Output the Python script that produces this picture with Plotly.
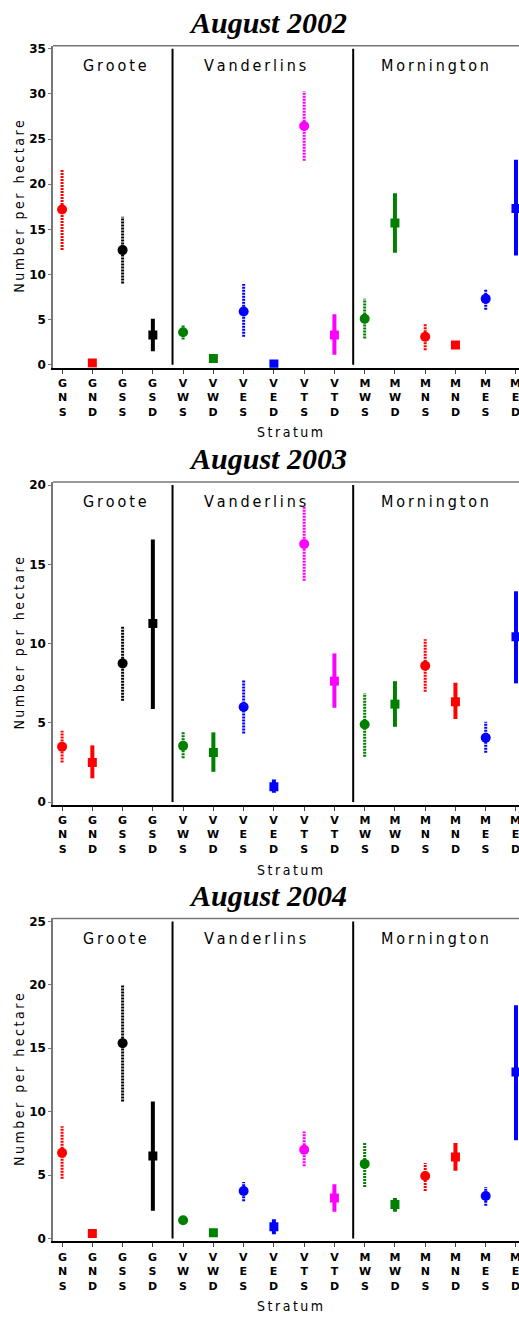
import plotly.graph_objects as go

# ---------------- data ----------------
categories = ["GNS", "GND", "GSS", "GSD", "VWS", "VWD", "VES", "VED",
              "VTS", "VTD", "MWS", "MWD", "MNS", "MND", "MES", "MED"]
cat_colors = ["#FF0000", "#FF0000", "#000000", "#000000", "#008000", "#008000",
              "#0000FF", "#0000FF", "#FF00FF", "#FF00FF", "#008000", "#008000",
              "#FF0000", "#FF0000", "#0000FF", "#0000FF"]

panel_titles = ["August 2002", "August 2003", "August 2004"]

mean_2002 = [17.2, 0.2, 12.7, 3.3, 3.6, 0.7, 5.9, 0.1, 26.45, 3.3, 5.1, 15.7, 3.1, 2.2, 7.3, 17.3]
lo_2002 = [12.7, None, 9.0, 1.5, 2.8, 0.3, 3.1, None, 22.6, 1.1, 2.9, 12.4, 1.6, None, 6.1, 12.1]
hi_2002 = [21.6, None, 16.4, 5.1, 4.4, 1.1, 8.95, None, 30.3, 5.6, 7.3, 19.0, 4.6, None, 8.4, 22.7]

mean_2003 = [3.5, 2.5, 8.75, 11.27, 3.55, 3.13, 6.0, 0.97, 16.28, 7.63, 4.9, 6.18, 8.6, 6.33, 4.06, 10.43]
lo_2003 = [2.5, 1.5, 6.4, 5.87, 2.76, 1.91, 4.33, 0.59, 13.96, 5.95, 2.86, 4.75, 6.96, 5.24, 3.11, 7.49]
hi_2003 = [4.5, 3.58, 11.1, 16.57, 4.44, 4.4, 7.74, 1.43, 18.63, 9.38, 6.86, 7.63, 10.28, 7.53, 5.07, 13.3]

mean_2004 = [6.75, 0.4, 15.4, 6.5, 1.44, 0.45, 3.74, 0.92, 7.0, 3.19, 5.88, 2.67, 4.93, 6.43, 3.35, 13.13]
lo_2004 = [4.71, None, 10.8, 2.18, None, None, 2.94, 0.34, 5.7, 2.1, 4.06, 2.1, 3.74, 5.33, 2.57, 7.74]
hi_2004 = [8.84, None, 19.97, 10.8, None, None, 4.45, 1.52, 8.44, 4.27, 7.58, 3.19, 5.95, 7.53, 4.06, 18.38]

y_tick_max = [35, 20, 25]
region_names = ["Groote", "Vanderlins", "Mornington"]
region_centers = [1.75, 6.38, 12.32]
divider_positions = [3.65, 9.62]

# ---------------- layout geometry ----------------
W, H = 519, 1317
panel_px = [(42, 366), (481, 806), (920, 1245)]  # plot-area top / bottom in pixels
x_left = 53

panels = [(mean_2002, lo_2002, hi_2002), (mean_2003, lo_2003, hi_2003), (mean_2004, lo_2004, hi_2004)]

COND = "DejaVu Sans Condensed, Liberation Sans Narrow, sans-serif"
THIN = "\u2009"


def spaced(s):
    return THIN.join(s)


def py(px):
    return 1 - px / H


fig = go.Figure()
annotations = []
shapes = []
layout_axes = {}

for k, (means, los, his) in enumerate(panels):
    xa = "x" if k == 0 else f"x{k + 1}"
    ya = "y" if k == 0 else f"y{k + 1}"
    top, bot = panel_px[k]
    ymax = y_tick_max[k]
    pad = (ymax * 3.0) / (bot - top - 6)

    # error bars
    for i, cat in enumerate(categories):
        if los[i] is None:
            continue
        shallow = cat.endswith("S")
        fig.add_trace(go.Scatter(
            x=[i, i], y=[los[i], his[i]], xaxis=xa, yaxis=ya, mode="lines",
            line=dict(color=cat_colors[i], width=3 if shallow else 4,
                      dash="2px,1px" if shallow else "solid"),
            showlegend=False, hoverinfo="skip"))

    # markers
    for sym, suffix, size in (("circle", "S", 10), ("square", "D", 9)):
        idx = [i for i, c in enumerate(categories) if c.endswith(suffix)]
        fig.add_trace(go.Scatter(
            x=idx, y=[means[i] for i in idx], xaxis=xa, yaxis=ya, mode="markers",
            marker=dict(symbol=sym, size=size, color=[cat_colors[i] for i in idx],
                        line=dict(width=0)),
            text=[categories[i] for i in idx], showlegend=False))

    xkey = "xaxis" if k == 0 else f"xaxis{k + 1}"
    ykey = "yaxis" if k == 0 else f"yaxis{k + 1}"
    layout_axes[xkey] = dict(
        domain=[x_left / W, 1], range=[-0.3, 15.1], anchor=ya,
        showline=True, linecolor="#000000", linewidth=1.5,
        ticks="outside", ticklen=4, tickwidth=1, tickcolor="#444",
        tickvals=list(range(len(categories))), showticklabels=False,
        showgrid=False, zeroline=False, fixedrange=True)
    layout_axes[ykey] = dict(
        domain=[py(bot), py(top)], range=[-pad, ymax + pad], anchor=xa,
        showline=True, linecolor="#777777", linewidth=1.5,
        ticks="outside", ticklen=3, tickwidth=1, tickcolor="#777777",
        tickvals=list(range(0, ymax + 1, 5)),
        tickfont=dict(family="DejaVu Sans", size=12, color="#000000", weight="bold"),
        showgrid=False, zeroline=False, fixedrange=True)

    # top border line
    shapes.append(dict(type="line", xref=f"{xa} domain", yref=f"{ya} domain",
                       x0=0, x1=1, y0=1, y1=1, line=dict(color="#777777", width=1.5)))
    # island dividers
    for d in divider_positions:
        shapes.append(dict(type="line", xref=xa, yref=ya, x0=d, x1=d, y0=0, y1=ymax,
                           line=dict(color="#000000", width=2)))

    # panel title
    annotations.append(dict(
        text=panel_titles[k], x=267.5 / W, y=py(top - 23.5), xref="paper", yref="paper",
        showarrow=False, xanchor="center", yanchor="middle",
        font=dict(family="Liberation Serif, Times New Roman, serif", size=30,
                  color="#000000", weight="bold", style="italic")))
    # region labels
    for name, cx in zip(region_names, region_centers):
        annotations.append(dict(
            text=spaced(name), x=cx, y=py(top + 20), xref=xa, yref="paper",
            showarrow=False, xanchor="center", yanchor="middle",
            font=dict(family=COND, size=16, color="#000000")))
    # stacked category letters (one label per category)
    for i, cat in enumerate(categories):
        annotations.append(dict(
            text="<br>".join(cat), x=i, y=py(bot + 30.5), xref=xa, yref="paper",
            showarrow=False, xanchor="center", yanchor="middle",
            font=dict(family="DejaVu Sans", size=11, color="#000000", weight="bold")))
    # x title
    annotations.append(dict(
        text=spaced("Stratum"), x=290 / W, y=py(bot + 65), xref="paper", yref="paper",
        showarrow=False, xanchor="center", yanchor="middle",
        font=dict(family=COND, size=14, color="#000000")))
    # y title
    annotations.append(dict(
        text=spaced("Number") + THIN * 4 + spaced("per") + THIN * 4 + spaced("hectare"),
        x=19 / W, y=py((top + bot) / 2), xref="paper", yref="paper",
        showarrow=False, xanchor="center", yanchor="middle", textangle=-90,
        font=dict(family=COND, size=14, color="#000000")))

fig.update_layout(
    width=W, height=H, margin=dict(l=0, r=0, t=0, b=0),
    paper_bgcolor="white", plot_bgcolor="white", showlegend=False,
    annotations=annotations, shapes=shapes, **layout_axes)

fig.write_html("out.html")
